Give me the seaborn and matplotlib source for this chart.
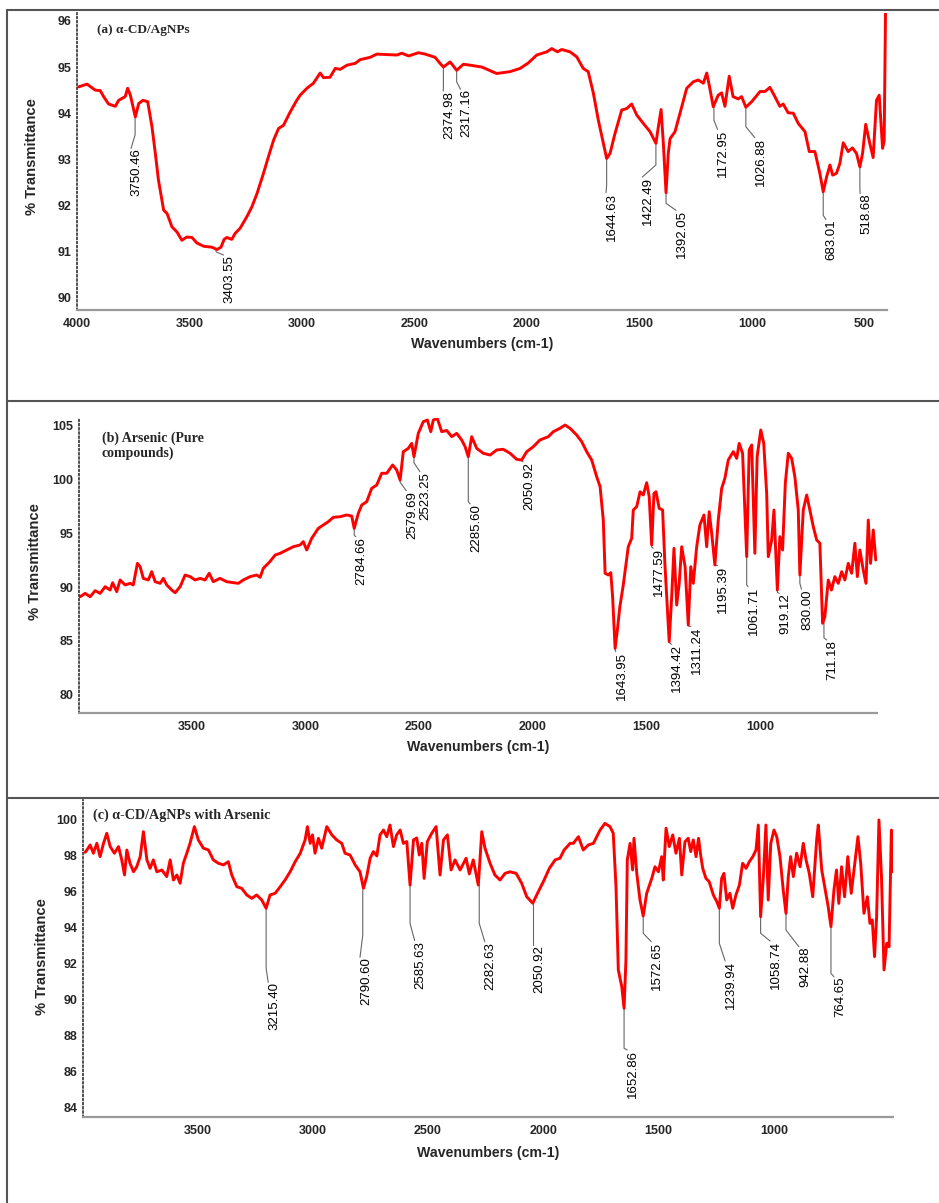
import numpy as np
import pandas as pd
import matplotlib
matplotlib.use("Agg")
import matplotlib.pyplot as plt
from matplotlib.lines import Line2D
from matplotlib.ticker import MultipleLocator, FixedLocator
import seaborn as sns

# ===========================
# Data
# ===========================

# (a) alpha-CD/AgNPs
a_wn = [3994, 3957, 3920, 3898, 3883, 3861, 3831, 3816, 3787, 3776, 3764, 3742, 3727, 3708, 3687,
        3668, 3653, 3639, 3616, 3601, 3579, 3557, 3535, 3513, 3490, 3468, 3438, 3402, 3379, 3361,
        3347, 3335, 3313, 3298, 3276, 3246, 3224, 3201, 3172, 3150, 3127, 3105, 3083, 3053, 3024,
        3009, 2979, 2950, 2920, 2905, 2876, 2853, 2831, 2801, 2764, 2742, 2698, 2668, 2624, 2579,
        2557, 2527, 2483, 2453, 2409, 2387, 2372, 2342, 2313, 2283, 2253, 2201, 2135, 2076, 2031,
        1994, 1957, 1912, 1890, 1865, 1846, 1809, 1779, 1750, 1728, 1705, 1683, 1661, 1646, 1631,
        1609, 1579, 1557, 1535, 1512, 1483, 1453, 1427, 1416, 1404, 1394, 1382, 1372, 1364, 1342,
        1320, 1290, 1261, 1239, 1216, 1201, 1190, 1172, 1150, 1135, 1120, 1101, 1084, 1061, 1046,
        1027, 1001, 964, 942, 920, 898, 876, 861, 839, 816, 794, 764, 745, 720, 698,
        683, 668, 653, 641, 624, 609, 594, 572, 553, 535, 520, 508, 494, 476, 461,
        446, 434, 419, 412, 409, 406]
a_T = [94.57, 94.63, 94.50, 94.49, 94.36, 94.20, 94.15, 94.28, 94.36, 94.54, 94.39, 93.92, 94.21, 94.28, 94.25,
       93.71, 93.13, 92.55, 91.90, 91.83, 91.54, 91.43, 91.25, 91.32, 91.31, 91.19, 91.12, 91.10, 91.05, 91.10,
       91.27, 91.31, 91.27, 91.40, 91.51, 91.76, 91.97, 92.26, 92.70, 93.06, 93.42, 93.67, 93.74, 94.03, 94.28,
       94.39, 94.54, 94.65, 94.87, 94.77, 94.78, 94.97, 94.95, 95.04, 95.08, 95.16, 95.21, 95.28, 95.27, 95.26,
       95.30, 95.24, 95.31, 95.28, 95.21, 95.08, 95.00, 95.11, 94.93, 95.06, 95.04, 95.00, 94.86, 94.90, 94.97,
       95.09, 95.26, 95.33, 95.40, 95.33, 95.38, 95.33, 95.22, 94.97, 94.90, 94.43, 93.85, 93.35, 93.02, 93.13,
       93.56, 94.07, 94.10, 94.20, 93.96, 93.78, 93.60, 93.35, 93.71, 94.08, 93.35, 92.28, 93.13, 93.45, 93.60,
       94.00, 94.54, 94.68, 94.72, 94.65, 94.87, 94.61, 94.14, 94.39, 94.44, 94.15, 94.80, 94.36, 94.31, 94.36,
       94.13, 94.25, 94.47, 94.47, 94.56, 94.36, 94.15, 94.20, 94.01, 94.00, 93.78, 93.60, 93.17, 93.17, 92.70,
       92.30, 92.62, 92.88, 92.66, 92.70, 92.91, 93.36, 93.17, 93.25, 93.13, 92.84, 93.13, 93.76, 93.35, 93.04,
       94.28, 94.39, 93.24, 93.40, 94.79, 96.16]

a_labels = ["3750.46", "3403.55", "2374.98", "2317.16", "1644.63", "1422.49", "1392.05",
            "1172.95", "1026.88", "683.01", "518.68"]
a_peak_wn = [3743, 3383, 2372, 2313, 1646, 1427, 1382, 1169, 1027, 683, 520]
a_peak_T = [93.92, 91.05, 95.00, 94.93, 93.02, 93.35, 92.28, 94.14, 94.13, 92.30, 92.84]

# (b) Arsenic (pure compounds)
b_wn = [3991, 3969, 3947, 3925, 3903, 3881, 3859, 3848, 3830, 3815, 3793, 3771, 3757, 3739, 3727,
        3713, 3691, 3676, 3661, 3639, 3625, 3610, 3588, 3573, 3551, 3529, 3507, 3485, 3463, 3441,
        3423, 3405, 3376, 3346, 3317, 3295, 3273, 3243, 3214, 3199, 3185, 3156, 3133, 3111, 3082,
        3053, 3023, 3009, 2994, 2972, 2943, 2921, 2899, 2877, 2847, 2818, 2796, 2785, 2767, 2752,
        2730, 2708, 2686, 2664, 2642, 2616, 2598, 2583, 2569, 2547, 2532, 2522, 2503, 2481, 2463,
        2448, 2437, 2419, 2400, 2378, 2356, 2334, 2312, 2297, 2283, 2268, 2246, 2217, 2187, 2158,
        2129, 2099, 2070, 2048, 2026, 1997, 1968, 1931, 1909, 1880, 1857, 1835, 1806, 1784, 1762,
        1740, 1718, 1703, 1689, 1681, 1667, 1656, 1648, 1637, 1627, 1616, 1601, 1579, 1564, 1557,
        1542, 1527, 1513, 1498, 1487, 1476, 1466, 1457, 1443, 1428, 1418, 1399, 1388, 1378, 1366,
        1355, 1344, 1329, 1315, 1304, 1293, 1278, 1264, 1246, 1234, 1223, 1212, 1198, 1183, 1168,
        1154, 1139, 1117, 1102, 1091, 1076, 1058, 1047, 1036, 1022, 1012, 996, 983, 970, 963,
        948, 938, 923, 912, 900, 888, 875, 860, 846, 831, 824, 809, 794, 780, 765,
        750, 736, 724, 714, 699, 685, 670, 655, 640, 626, 611, 596, 582, 571, 560,
        545, 533, 523, 513, 501, 490]
b_T = [89.10, 89.41, 89.10, 89.66, 89.41, 90.03, 89.72, 90.40, 89.57, 90.65, 90.19, 90.34, 90.19, 92.19, 91.88,
       90.80, 90.65, 91.42, 90.49, 90.34, 90.80, 90.19, 89.72, 89.47, 90.03, 91.11, 90.96, 90.65, 90.80, 90.65,
       91.27, 90.49, 90.80, 90.49, 90.40, 90.34, 90.65, 90.96, 91.11, 90.90, 91.73, 92.35, 92.96, 93.12, 93.43,
       93.73, 93.89, 94.20, 93.43, 94.51, 95.43, 95.74, 96.05, 96.45, 96.51, 96.67, 96.57, 95.43, 96.82, 97.59,
       97.90, 99.14, 99.44, 100.53, 100.53, 101.30, 100.83, 99.91, 102.53, 102.84, 103.30, 102.07, 104.23, 105.31, 105.46,
       104.38, 105.46, 105.60, 104.38, 104.50, 103.92, 104.23, 103.61, 102.99, 102.07, 103.92, 102.84, 102.38, 102.22, 102.69,
       102.75, 102.38, 101.82, 101.76, 102.53, 102.99, 103.61, 103.92, 104.38, 104.69, 105.00, 104.69, 104.07, 103.46, 102.53,
       101.76, 100.21, 99.29, 96.20, 91.27, 91.11, 91.33, 89.10, 84.32, 86.02, 88.18, 90.19, 93.73, 94.51, 97.13,
       97.44, 98.82, 98.52, 99.66, 98.36, 93.89, 98.67, 98.82, 97.28, 97.13, 92.19, 84.94, 89.10, 93.58, 88.33,
       90.34, 93.73, 91.88, 86.48, 91.88, 90.34, 93.73, 95.74, 96.67, 93.73, 96.97, 94.97, 92.04, 96.20, 99.14,
       100.06, 101.76, 102.53, 101.91, 103.30, 102.38, 92.81, 102.69, 103.15, 93.12, 102.07, 104.54, 103.30, 98.67, 92.81,
       94.35, 97.13, 89.72, 94.66, 93.43, 99.60, 102.38, 101.91, 100.21, 97.13, 91.11, 97.13, 98.52, 97.13, 95.59,
       94.35, 94.05, 86.64, 87.25, 90.65, 89.72, 90.96, 90.34, 91.42, 90.65, 92.19, 91.27, 94.05, 90.96, 93.43,
       91.57, 90.34, 96.20, 92.19, 95.28, 92.50]

b_labels = ["2784.66", "2579.69", "2523.25", "2285.60", "2050.92", "1643.95", "1477.59",
            "1394.42", "1311.24", "1195.39", "1061.71", "919.12", "830.00", "711.18"]
b_peak_wn = [2785, 2583, 2522, 2283, 2048, 1637, 1476, 1399, 1315, 1198, 1058, 923, 824, 718]
b_peak_T = [95.43, 99.91, 102.07, 102.07, 101.76, 84.32, 93.89, 84.94, 86.48, 92.04, 92.81, 89.72, 91.11, 86.80]

# (c) alpha-CD/AgNPs with Arsenic
c_wn = [3987, 3979, 3965, 3951, 3936, 3922, 3907, 3893, 3878, 3860, 3842, 3828, 3816, 3806, 3792,
        3777, 3763, 3748, 3734, 3719, 3705, 3691, 3676, 3654, 3633, 3618, 3604, 3589, 3575, 3561,
        3546, 3532, 3513, 3496, 3474, 3452, 3431, 3409, 3387, 3366, 3351, 3329, 3308, 3286, 3264,
        3243, 3221, 3202, 3185, 3163, 3141, 3120, 3098, 3076, 3054, 3033, 3023, 3011, 3001, 2990,
        2975, 2961, 2939, 2917, 2896, 2874, 2860, 2838, 2816, 2795, 2780, 2766, 2751, 2737, 2722,
        2708, 2693, 2679, 2665, 2650, 2636, 2621, 2607, 2592, 2578, 2563, 2549, 2538, 2527, 2517,
        2503, 2484, 2465, 2448, 2433, 2416, 2400, 2383, 2361, 2335, 2321, 2304, 2282, 2267, 2253,
        2231, 2210, 2188, 2166, 2144, 2118, 2094, 2072, 2046, 2022, 2000, 1974, 1949, 1928, 1910,
        1884, 1870, 1848, 1827, 1805, 1783, 1754, 1733, 1711, 1697, 1685, 1675, 1660, 1650, 1642,
        1636, 1624, 1613, 1607, 1595, 1581, 1567, 1552, 1530, 1516, 1501, 1487, 1480, 1468, 1454,
        1439, 1425, 1410, 1400, 1386, 1372, 1361, 1350, 1338, 1327, 1318, 1309, 1295, 1281, 1263,
        1248, 1237, 1227, 1217, 1205, 1191, 1179, 1165, 1150, 1136, 1121, 1107, 1092, 1078, 1068,
        1058, 1046, 1035, 1025, 1014, 1000, 988, 974, 960, 948, 938, 928, 916, 902, 887,
        873, 861, 847, 832, 815, 808, 793, 779, 765, 753, 740, 729, 719, 707, 694,
        680, 665, 653, 636, 624, 610, 595, 584, 574, 564, 555, 545, 534, 523, 511,
        501, 491, 485]
c_T = [98.20, 98.33, 98.61, 98.15, 98.70, 97.96, 98.70, 99.26, 98.52, 98.15, 98.52, 97.78, 96.94, 98.33, 97.59,
       97.12, 97.40, 97.96, 99.35, 97.78, 97.31, 97.78, 97.12, 97.22, 96.85, 97.78, 96.66, 96.94, 96.48, 97.59,
       98.15, 98.70, 99.63, 98.89, 98.43, 98.33, 97.78, 97.59, 97.50, 97.68, 96.94, 96.29, 96.20, 95.83, 95.64,
       95.83, 95.55, 95.09, 95.83, 95.92, 96.29, 96.66, 97.12, 97.68, 98.15, 98.89, 99.63, 98.70, 99.17, 98.15,
       98.98, 98.43, 99.63, 99.17, 98.89, 98.70, 98.15, 98.05, 97.50, 97.12, 96.20, 96.85, 97.87, 98.24, 98.00,
       99.17, 99.44, 99.07, 99.72, 98.52, 99.17, 99.44, 98.70, 98.80, 96.38, 98.89, 99.00, 98.05, 98.70, 96.75,
       98.80, 99.26, 99.63, 96.94, 98.89, 99.17, 97.22, 97.78, 97.22, 97.87, 97.00, 97.78, 96.38, 99.35, 98.43,
       97.59, 96.94, 96.66, 97.03, 97.12, 97.03, 96.48, 95.73, 95.37, 96.01, 96.57, 97.31, 97.78, 97.87, 98.33,
       98.70, 98.70, 99.07, 98.33, 98.61, 98.70, 99.44, 99.81, 99.63, 99.26, 96.29, 91.66, 90.73, 89.53, 92.21,
       97.78, 98.70, 97.22, 98.98, 97.03, 95.55, 94.66, 95.92, 96.75, 97.40, 97.12, 97.96, 96.66, 99.54, 98.52,
       99.17, 98.15, 98.98, 96.94, 98.79, 98.98, 98.24, 98.89, 97.96, 98.98, 98.05, 97.31, 96.75, 96.57, 95.83,
       95.46, 95.09, 96.75, 97.03, 95.55, 95.92, 95.09, 95.83, 96.38, 97.59, 97.31, 97.68, 97.96, 98.33, 99.72,
       94.62, 96.85, 99.72, 95.55, 98.70, 99.44, 99.07, 97.96, 96.11, 94.81, 96.85, 97.96, 96.85, 98.15, 97.40,
       98.70, 97.78, 97.03, 95.73, 98.89, 99.72, 97.22, 96.20, 95.18, 94.07, 96.11, 97.22, 95.36, 97.40, 95.73,
       97.96, 95.92, 97.22, 99.07, 97.59, 94.81, 95.73, 94.25, 94.44, 92.40, 94.62, 100.00, 96.85, 91.66, 93.14,
       92.95, 99.44, 97.12]

c_labels = ["3215.40", "2790.60", "2585.63", "2282.63", "2050.92", "1652.86", "1572.65",
            "1239.94", "1058.74", "942.88", "764.65"]
c_peak_wn = [3202, 2783, 2578, 2278, 2046, 1650, 1567, 1237, 1058, 948, 753]
c_peak_T = [95.09, 96.11, 96.38, 96.38, 95.37, 89.53, 94.66, 95.09, 94.62, 94.81, 94.07]

# ===========================
# Label layout (leader elbow, text x, text top)
# ===========================
a_layout = dict(elbow=[93.53, 91.00, 94.55, 94.68, 92.44, 92.88, 92.05, 93.85, 93.71, 91.79, 92.41],
                tx=[3735, 3324, 2347, 2270, 1623, 1461, 1312, 1127, 961, 645, 493],
                ty=[93.24, 90.93, 94.48, 94.52, 92.28, 92.62, 91.90, 93.65, 93.47, 91.70, 92.26])
b_layout = dict(elbow=[94.80, 99.70, 101.50, 97.90, 101.70, 84.20, 93.70, 84.85, 86.40, 92.00, 90.19, 89.50, 90.34, 85.30],
                tx=[2752, 2530, 2470, 2249, 2016, 1608, 1443, 1363, 1278, 1164, 1026, 889, 791, 680],
                ty=[94.66, 98.92, 100.68, 97.69, 101.60, 84.01, 93.58, 84.70, 86.33, 92.00, 90.03, 89.41, 89.80, 85.09])
c_layout = dict(elbow=[91.75, 93.60, 94.25, 94.25, 93.05, 87.30, 93.70, 93.14, 93.70, 93.88, 91.47],
                tx=[3167, 2769, 2532, 2228, 2017, 1610, 1506, 1186, 991, 866, 714],
                ty=[90.97, 92.36, 93.29, 93.23, 93.05, 87.21, 93.23, 92.17, 93.27, 92.95, 91.28])

# ===========================
# Figure
# ===========================
sns.set_theme(style="white")
plt.rcParams["font.family"] = ["Liberation Sans", "DejaVu Sans"]

W, H = 939, 1203
fig = plt.figure(figsize=(W / 100, H / 100), dpi=100)
fig.patch.set_facecolor("white")


def px_box(left, right, top, bottom):
    return [left / W, 1 - bottom / H, (right - left) / W, (bottom - top) / H]


def draw_panel(ax, wn, T, xlim, ylim, yticks, yminor, xticks, xlabels,
               labels, peak_wn, peak_T, layout, xlab_y, ylab_x, ylab_y):
    df = pd.DataFrame({"wn": wn, "T": T})
    sns.lineplot(data=df, x="wn", y="T", ax=ax, color="#ff0000", linewidth=2.1,
                 sort=False, estimator=None)
    ax.set_xlim(*xlim)
    ax.set_ylim(*ylim)
    ax.set_facecolor("white")

    ax.yaxis.set_major_locator(FixedLocator(yticks))
    ax.yaxis.set_minor_locator(MultipleLocator(yminor))
    ax.xaxis.set_major_locator(FixedLocator(xticks))
    ax.set_xticklabels(xlabels)
    ax.xaxis.set_minor_locator(MultipleLocator(100))

    for s in ["top", "right"]:
        ax.spines[s].set_visible(False)
    ax.spines["left"].set_color("#333333")
    ax.spines["left"].set_linewidth(1.2)
    ax.spines["left"].set_linestyle((0, (1, 1.5)))
    ax.spines["bottom"].set_color("#9a9a9a")
    ax.spines["bottom"].set_linewidth(1.6)

    ax.tick_params(axis="both", which="major", direction="out", length=2.5, width=2.2,
                   color="black", labelsize=9)
    ax.tick_params(axis="both", which="minor", direction="out", length=1.5, width=1.5,
                   color="black")
    ax.tick_params(axis="y", which="major", pad=1.5)
    ax.tick_params(axis="x", which="major", pad=3.3)
    for lab in ax.get_xticklabels() + ax.get_yticklabels():
        lab.set_fontweight("bold")

    ax.set_xlabel("Wavenumbers (cm-1)", fontsize=10.2, fontweight="bold")
    ax.xaxis.label.set_va("center")
    ax.xaxis.set_label_coords(0.5, xlab_y)
    ax.set_ylabel("% Transmittance", fontsize=10.6, fontweight="bold")
    ax.yaxis.label.set_va("center")
    ax.yaxis.set_label_coords(ylab_x, ylab_y)

    # peak leaders and labels
    for i, text in enumerate(labels):
        px, py = peak_wn[i], peak_T[i]
        tx, ty = layout["tx"][i], layout["ty"][i]
        ey = layout["elbow"][i]
        ax.plot([px, px, tx + 26], [py, ey, ty], color="#666666", linewidth=0.8, zorder=1)
        ax.text(tx, ty, text, rotation=90, ha="center", va="top", fontsize=9.5,
                color="black", zorder=3)


# Panel (a)
ax_a = fig.add_axes(px_box(77.3, 887.3, 13, 310))
draw_panel(ax_a, a_wn, a_T, (4000, 398), (89.74, 96.17), list(range(90, 97)), 0.2,
           [4000, 3500, 3000, 2500, 2000, 1500, 1000, 500],
           ["4000", "3500", "3000", "2500", "2000", "1500", "1000", "500"],
           a_labels, a_peak_wn, a_peak_T, a_layout, -0.1145, -0.056, 0.515)

# Panel (b)
ax_b = fig.add_axes(px_box(79, 876.9, 418, 712.7))
draw_panel(ax_b, b_wn, b_T, (3996, 485), (78.36, 105.65), [80, 85, 90, 95, 100, 105], 1,
           [3500, 3000, 2500, 2000, 1500, 1000, 500],
           ["3500", "3000", "2500", "2000", "1500", "1000", ""],
           b_labels, b_peak_wn, b_peak_T, b_layout, -0.1154, -0.055, 0.512)

# Panel (c)
ax_c = fig.add_axes(px_box(83, 893, 800, 1116.7))
draw_panel(ax_c, c_wn, c_T, (3996, 484), (83.5, 101.11), list(range(84, 101, 2)), 0.5,
           [3500, 3000, 2500, 2000, 1500, 1000, 500],
           ["3500", "3000", "2500", "2000", "1500", "1000", ""],
           c_labels, c_peak_wn, c_peak_T, c_layout, -0.1156, -0.051, 0.505)

# panel titles
serif = ["Liberation Serif", "DejaVu Serif"]
fig.text(97 / W, 1 - 30 / H, "(a) α-CD/AgNPs", family=serif, fontweight="bold",
         fontsize=9.5, ha="left", va="center")
fig.text(102 / W, 1 - 445.3 / H, "(b) Arsenic (Pure\ncompounds)", family=serif,
         fontweight="bold", fontsize=10, ha="left", va="center", linespacing=1.15)
fig.text(92.7 / W, 1 - 815.7 / H, "(c) α-CD/AgNPs with Arsenic", family=serif,
         fontweight="bold", fontsize=10.2, ha="left", va="center")

# panel frames
frame = dict(color="#555555", linewidth=1.5, transform=fig.transFigure)
x0 = 7.3 / W
fig.add_artist(Line2D([x0, x0], [0, 1 - 10 / H], **frame))
for ypx in [10, 401, 798]:
    fig.add_artist(Line2D([x0, 1], [1 - ypx / H, 1 - ypx / H], **frame))

fig.savefig("out.png", dpi=100, facecolor="white")
